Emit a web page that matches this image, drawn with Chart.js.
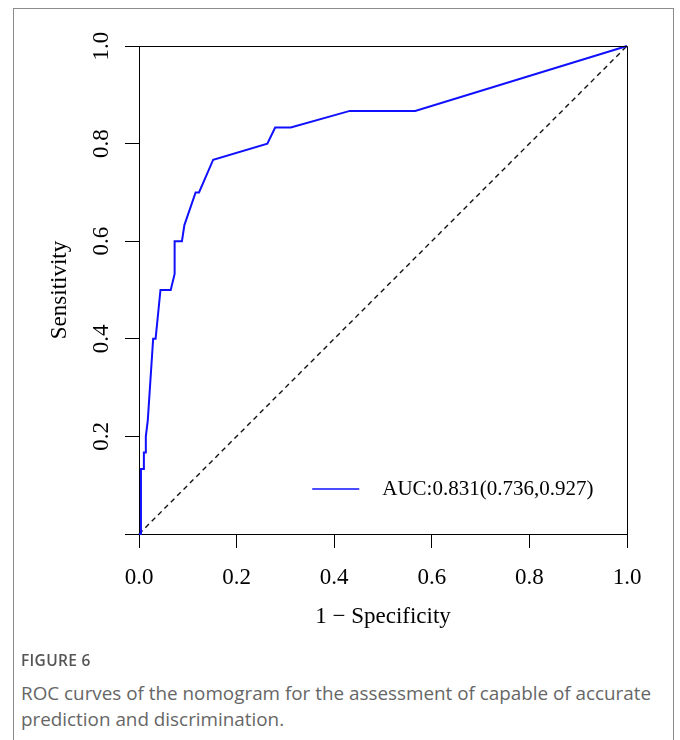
<!DOCTYPE html>
<html>
<head>
<meta charset="utf-8">
<script src="https://cdn.jsdelivr.net/npm/chart.js@4.4.0/dist/chart.umd.min.js"></script>
<style>
  html, body { margin: 0; padding: 0; background: #fff; }
  body { width: 680px; height: 740px; position: relative; overflow: hidden; }
  #frame { position: absolute; left: 13px; top: 8px; width: 661px; height: 800px; border: 1px solid #8c8c8c; box-sizing: border-box; }
  #wrap { position: absolute; left: 0; top: 0; width: 680px; height: 660px; }
  #fig { position: absolute; left: 21px; top: 649px; font-family: "Open Sans", sans-serif; font-size: 15.5px; font-weight: 600; color: #555; letter-spacing: 0.3px; }
  #cap { position: absolute; left: 21px; top: 680px; width: 645px; font-family: "Open Sans", sans-serif; font-size: 18.85px; line-height: 26px; color: #666; }
</style>
</head>
<body>
<div id="frame"></div>
<div id="wrap"><canvas id="c" width="680" height="660"></canvas></div>
<div id="fig">FIGURE 6</div>
<div id="cap">ROC curves of the nomogram for the assessment of capable of accurate prediction and discrimination.</div>
<script>
// Data
const fpr = [0, 0.004, 0.004, 0.010, 0.010, 0.014, 0.014, 0.018, 0.029, 0.034, 0.044, 0.065, 0.073, 0.073, 0.088, 0.093, 0.116, 0.123, 0.152, 0.263, 0.279, 0.311, 0.432, 0.566, 1.0];
const tpr = [0, 0, 0.133, 0.133, 0.167, 0.167, 0.200, 0.233, 0.400, 0.400, 0.500, 0.500, 0.533, 0.600, 0.600, 0.633, 0.700, 0.700, 0.767, 0.800, 0.833, 0.833, 0.867, 0.867, 1.0];
const refX = [0, 1];
const refY = [0, 1];
const xTicks = [0, 0.2, 0.4, 0.6, 0.8, 1.0];
const yTicks = [0, 0.2, 0.4, 0.6, 0.8, 1.0];
const legendLabel = "AUC:0.831(0.736,0.927)";
const xTitle = "1 \u2212 Specificity";
const yTitle = "Sensitivity";

const serif = "'Liberation Serif', 'Times New Roman', serif";
const FS = 23;
const LFS = 21;

const rocPts = fpr.map((x, i) => ({x: x, y: tpr[i]}));
const refPts = refX.map((x, i) => ({x: x, y: refY[i]}));

const boxPlugin = {
  id: 'box',
  afterDatasetsDraw(chart) {
    const {ctx, chartArea: a} = chart;
    ctx.save();
    ctx.strokeStyle = '#000';
    ctx.lineWidth = 1;
    ctx.beginPath();
    ctx.moveTo(a.left, a.top + 0.5);
    ctx.lineTo(a.right + 0.5, a.top + 0.5);
    ctx.lineTo(a.right + 0.5, a.bottom);
    ctx.stroke();
    ctx.restore();
  }
};

const legendPlugin = {
  id: 'insideLegend',
  afterDatasetsDraw(chart) {
    const {ctx} = chart;
    const xs = chart.scales.x, ys = chart.scales.y;
    const ds = chart.data.datasets[0];
    const lx = xs.getPixelForValue(0.355);
    const ly = ys.getPixelForValue(0.092);
    ctx.save();
    ctx.strokeStyle = ds.borderColor;
    ctx.lineWidth = 1.5;
    ctx.beginPath();
    ctx.moveTo(lx, ly);
    ctx.lineTo(lx + 47, ly);
    ctx.stroke();
    ctx.fillStyle = '#000';
    ctx.font = LFS + "px " + serif;
    ctx.textBaseline = 'middle';
    ctx.textAlign = 'left';
    ctx.fillText(ds.label, lx + 70, ly);
    ctx.restore();
  }
};

new Chart(document.getElementById('c'), {
  type: 'scatter',
  data: {
    datasets: [
      { label: legendLabel, data: rocPts, showLine: true, borderColor: '#1010ff', borderWidth: 2, pointRadius: 0, tension: 0, clip: 6, order: 1 },
      { label: 'ref', data: refPts, showLine: true, borderColor: '#111', borderWidth: 1.4, borderDash: [5, 4], pointRadius: 0, clip: 6, order: 2 }
    ]
  },
  options: {
    responsive: false,
    animation: false,
    devicePixelRatio: 1,
    layout: { padding: { left: 0, top: 46, right: 53, bottom: 0 } },
    plugins: { legend: { display: false }, tooltip: { enabled: false } },
    scales: {
      x: {
        type: 'linear', min: 0, max: 1,
        afterBuildTicks: s => { s.ticks = xTicks.map(v => ({value: v})); },
        afterFit: s => { s.height = 660 - 534; },
        grid: { drawOnChartArea: false, drawTicks: true, tickLength: 14, color: '#000', lineWidth: 1 },
        border: { display: true, color: '#000', width: 1 },
        ticks: { color: '#000', font: { family: serif, size: FS }, padding: 16, maxRotation: 0, callback: v => Number(v).toFixed(1) },
        title: { display: true, text: xTitle, color: '#000', font: { family: serif, size: FS }, padding: { top: 0, bottom: 29 } }
      },
      y: {
        type: 'linear', min: 0, max: 1,
        afterBuildTicks: s => { s.ticks = yTicks.map(v => ({value: v})); },
        afterFit: s => { s.width = 139; },
        grid: { drawOnChartArea: false, drawTicks: true, tickLength: 14, color: '#000', lineWidth: 1 },
        border: { display: true, color: '#000', width: 1 },
        ticks: { color: '#000', font: { family: serif, size: FS }, padding: 9, minRotation: 90, maxRotation: 90, crossAlign: 'center', callback: v => (v === 0 ? '' : Number(v).toFixed(1)) },
        title: { display: true, text: yTitle, color: '#000', font: { family: serif, size: FS }, padding: { top: 46, bottom: 0 } }
      }
    }
  },
  plugins: [boxPlugin, legendPlugin]
});
</script>
</body>
</html>
